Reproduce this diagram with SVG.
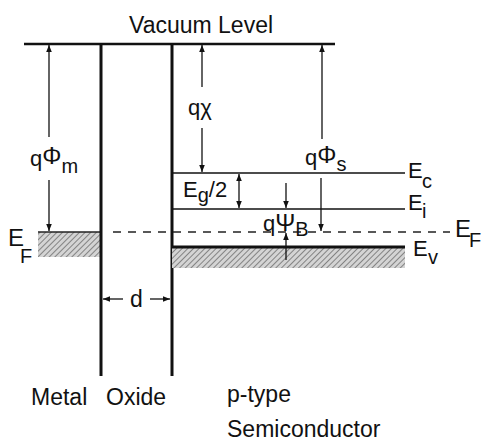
<svg xmlns="http://www.w3.org/2000/svg" width="483" height="441" viewBox="0 0 483 441">
<style>
text{font-family:"Liberation Sans",Arial,sans-serif;fill:#111}
.t{font-size:23px}
.e{font-size:22px}
.big{font-size:24px}
.sub{font-size:20px}
.ln{stroke:#111;fill:none;stroke-width:1.3}
.wall{stroke:#111;stroke-width:3;fill:none}
.dash{stroke:#222;stroke-width:1.3;stroke-dasharray:8 7;fill:none}
</style>
<defs>
<marker id="ah" viewBox="0 0 10 10" refX="10" refY="5" markerWidth="7" markerHeight="7" orient="auto-start-reverse" markerUnits="userSpaceOnUse">
<path d="M0,1 L10,5 L0,9 z" fill="#111"/>
</marker>
<pattern id="hatch" patternUnits="userSpaceOnUse" width="4" height="4" patternTransform="rotate(45)">
<rect width="4" height="4" fill="#d4d4d4"/>
<line x1="0" y1="0" x2="0" y2="4" stroke="#6e6e6e" stroke-width="1.6"/>
</pattern>
</defs>

<g id="vacuum">
<line x1="24" y1="44" x2="335" y2="44" stroke="#111" stroke-width="2.5"/>
<text class="t" x="129" y="33">Vacuum Level</text>
</g>

<g id="metal">
<rect x="38" y="232" width="62" height="25" fill="url(#hatch)"/>
<line x1="38" y1="232" x2="100" y2="232" stroke="#222" stroke-width="1.5"/>
<text class="big" x="8" y="246">E</text>
<text class="sub" x="20" y="263">F</text>
<text class="t" x="31" y="405">Metal</text>
</g>

<g id="oxide">
<line class="wall" x1="101" y1="44" x2="101" y2="376"/>
<line class="wall" x1="172" y1="44" x2="172" y2="376"/>
<text class="t" x="130" y="307">d</text>
<text class="t" x="106" y="405">Oxide</text>
</g>

<g id="semiconductor">
<line class="ln" x1="172" y1="173" x2="405" y2="173"/>
<line class="ln" x1="172" y1="209" x2="405" y2="209"/>
<rect x="172" y="247" width="233" height="21" fill="url(#hatch)"/>
<line x1="172" y1="247" x2="405" y2="247" stroke="#111" stroke-width="3"/>
<text class="e" x="408" y="178">E</text>
<text class="sub" x="422" y="188">c</text>
<text class="e" x="408" y="210">E</text>
<text class="sub" x="422" y="218">i</text>
<text class="e" x="413" y="256">E</text>
<text class="sub" x="428" y="264">v</text>
<text class="big" x="455" y="237">E</text>
<text class="sub" x="469" y="247">F</text>
<text class="t" x="227" y="402">p-type</text>
<text class="t" x="227" y="437">Semiconductor</text>
</g>

<g id="connectors">
<line class="dash" x1="113" y1="232" x2="450" y2="232"/>
<line class="ln" x1="49" y1="137" x2="49" y2="45" marker-end="url(#ah)"/>
<line class="ln" x1="49" y1="180" x2="49" y2="231" marker-end="url(#ah)"/>
<line class="ln" x1="202" y1="87" x2="202" y2="45" marker-end="url(#ah)"/>
<line class="ln" x1="202" y1="128" x2="202" y2="172" marker-end="url(#ah)"/>
<line class="ln" x1="322" y1="139" x2="322" y2="45" marker-end="url(#ah)"/>
<line class="ln" x1="321" y1="178" x2="321" y2="231" marker-end="url(#ah)"/>
<line class="ln" x1="239" y1="174" x2="239" y2="208" marker-start="url(#ah)" marker-end="url(#ah)"/>
<line class="ln" x1="286" y1="183" x2="286" y2="208" marker-end="url(#ah)"/>
<line class="ln" x1="286" y1="260" x2="286" y2="233" marker-end="url(#ah)"/>
<line class="ln" x1="123" y1="299" x2="103" y2="299" marker-end="url(#ah)"/>
<line class="ln" x1="150" y1="299" x2="170" y2="299" marker-end="url(#ah)"/>
</g>

<g id="labels">
<text class="e" x="30" y="166">q<tspan font-size="24" dy="-2">Φ</tspan><tspan class="sub" dy="9">m</tspan></text>
<text class="e" x="188" y="115">qχ</text>
<text class="e" x="305" y="165">q<tspan font-size="24" dy="-2">Φ</tspan><tspan class="sub" dy="8">s</tspan></text>
<text class="e" x="183" y="197">E<tspan class="sub" dy="5">g</tspan><tspan dy="-5">/2</tspan></text>
<text class="e" x="263" y="231">q<tspan font-size="24">Ψ</tspan><tspan class="sub" dy="5">B</tspan></text>
</g>
</svg>
